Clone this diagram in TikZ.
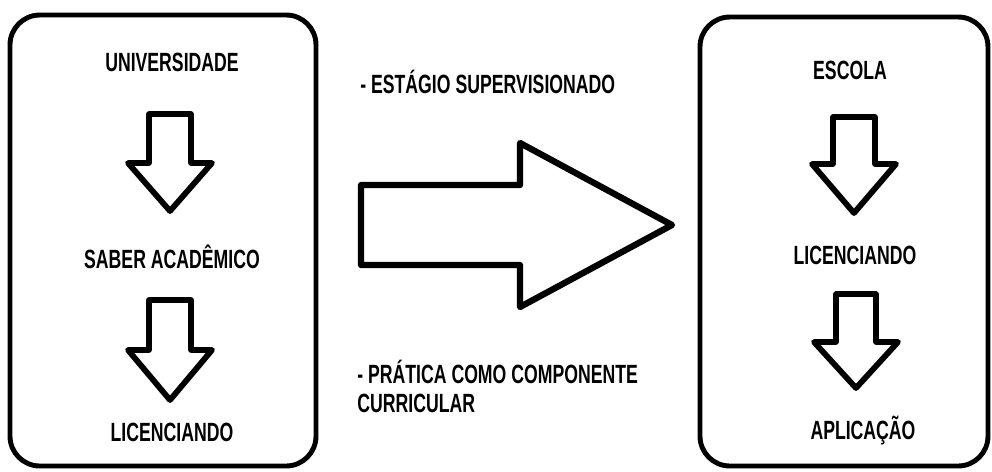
\documentclass[tikz,border=0pt]{standalone}
\usepackage{fontspec}
\setmainfont{Liberation Sans}[FakeStretch=0.67]
\usetikzlibrary{calc}
\def\fatdown[#1](#2)(#3:#4:#5:#6)% Syntax: [draw options] (top centre) (shaft half width:shaft length:head half width:head length)
{ \draw[#1] ($(#2)+(-#3,0)$) -- ++(0,#4) -- ++({#3-#5},0) -- ++(#5,#6) -- ++(#5,-#6) -- ++({#3-#5},0) -- ++(0,-#4) -- cycle; }

\begin{document}
\begin{tikzpicture}[x=0.02cm,y=-0.02cm,
	box/.style={line width=2.8pt,rounded corners=17pt},
	fat/.style={line width=3.3pt,line join=round},
	lbl/.style={font=\bfseries\fontsize{15}{16.5}\selectfont,inner sep=0pt}]
	\useasboundingbox (0,0) rectangle (992,471);
	\draw[box] (10,15) rectangle (316,466);
	\draw[box] (700,17) rectangle (988,466);
	%
	\node[lbl] (univ) at (172,62) {UNIVERSIDADE};
	\fatdown[fat](170,114)(21:49:42:48)
	\node[lbl] (saber) at (172,257) {SABER ACADÊMICO};
	\fatdown[fat](170,300)(21:50:42:50)
	\node[lbl] (licA) at (172,432) {LICENCIANDO};
	%
	\node[lbl] (escola) at (850,70) {ESCOLA};
	\fatdown[fat](854,117)(21:47:42:49)
	\node[lbl] (licB) at (855,255) {LICENCIANDO};
	\fatdown[fat](856,294)(20:48:42:46)
	\node[lbl] (aplic) at (863,430) {APLICAÇÃO};
	%
	\draw[fat,line width=3.6pt] (361,185) -- (520,185) -- (520,143) -- (672,225) -- (520,307) -- (520,265) -- (361,265) -- cycle;
	\node[lbl,anchor=west] (estagio) at (360,82) {- ESTÁGIO SUPERVISIONADO};
	\node[lbl,anchor=west,align=left] (pratica) at (357,386) {- PRÁTICA COMO COMPONENTE\\CURRICULAR};
\end{tikzpicture}
\end{document}
